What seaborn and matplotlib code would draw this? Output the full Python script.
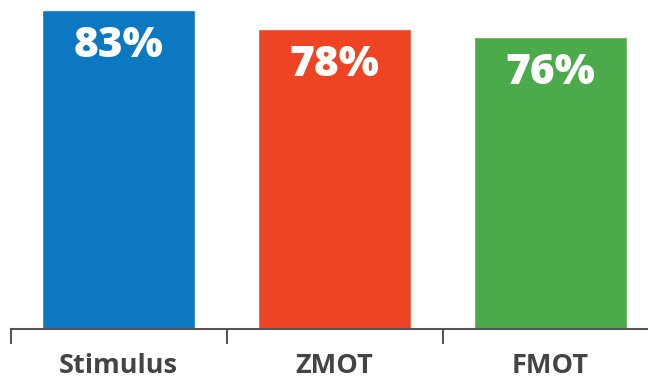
import matplotlib
matplotlib.use("Agg")
import matplotlib.pyplot as plt
import seaborn as sns
import pandas as pd

categories = ["Stimulus", "ZMOT", "FMOT"]
values = [83, 78, 76]
colors = ["#0D78C2", "#EF4424", "#4BAA4A"]

sns.set_style("white")
plt.rcParams['font.family'] = ['Open Sans', 'DejaVu Sans']

df = pd.DataFrame({"cat": categories, "val": values})

fig = plt.figure(figsize=(6.48, 3.83), dpi=100)
ax = fig.add_axes([10.5/648, 1 - 329/383, 1 - 10.5/648, 329/383])

sns.barplot(data=df, x="cat", y="val", hue="cat", palette=colors, legend=False,
            width=153/216, saturation=1, ax=ax)

ax.set_xlabel("")
ax.set_ylabel("")
ax.set_yticks([])
for s in ["top", "right", "left"]:
    ax.spines[s].set_visible(False)
ax.spines["bottom"].set_color("#555555")
ax.spines["bottom"].set_linewidth(1.5)

ax.set_xticks(range(len(categories)))
ax.set_xticklabels(categories, fontsize=19.5, fontweight="bold", color="#444444")
ax.tick_params(axis="x", which="major", length=0, pad=17)
ax.set_xticks([-0.5, 0.5, 1.5], minor=True)
ax.tick_params(axis="x", which="minor", bottom=True, length=10.5, width=1.5,
               color="#555555", direction="out")

ax.set_xlim(-0.5, (648 - 118.5) / 216)
ax.set_ylim(0, 329 / 3.843)

for i, v in enumerate(values):
    ax.annotate(f"{v}%", xy=(i, v), xytext=(0, -26), textcoords="offset points",
                ha="center", va="center", fontsize=30.5, fontweight=800, color="white")

fig.savefig("out.png", dpi=100)
